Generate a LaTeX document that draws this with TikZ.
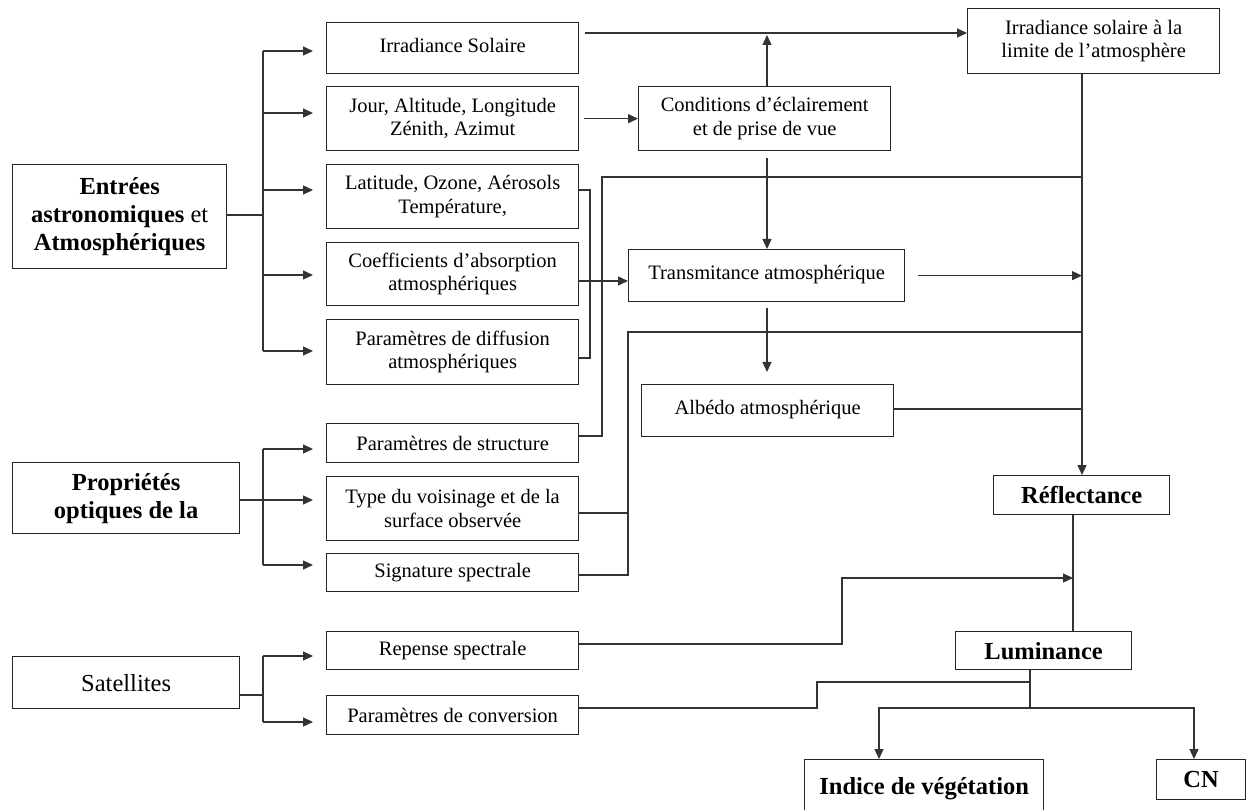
\documentclass[tikz,border=0pt]{standalone}
\usepackage{fontspec}
\setmainfont{Liberation Serif}
\usetikzlibrary{arrows.meta}
\begin{document}
\begin{tikzpicture}[x=1pt,y=-1pt,
  box/.style={draw=black!85, line width=1.3pt, anchor=north west, inner sep=0pt, align=center, font=\fontsize{20.5}{23.5}\selectfont},
  bbox/.style={box, font=\fontsize{24.5}{28}\selectfont\bfseries},
  ln/.style={draw=black!80, line width=1.3pt},
  arr/.style={ln, -{Triangle[length=10pt,width=9pt]}}]
\path[use as bounding box, clip] (0,0) rectangle (1251,810);
\fill[white] (0,0) rectangle (1251,810);

% left group boxes
\node[box, minimum width=214pt, minimum height=104pt, font=\fontsize{24.5}{28}\selectfont] (entrees) at (12,164)
  {\textbf{Entrées}\\\textbf{astronomiques} et\\\textbf{Atmosphériques}};
\node[bbox, minimum width=227pt, minimum height=71pt] (prop) at (12,462) {Propriétés\\optiques de la};
\node[box, minimum width=227pt, minimum height=52pt, font=\fontsize{24.5}{28}\selectfont] (sat) at (12,656) {Satellites};

% column boxes
\node[box, minimum width=252pt, minimum height=51pt] (irrsol) at (326,22) {\raisebox{6pt}{Irradiance Solaire}};
\node[box, minimum width=252pt, minimum height=64pt] (jour) at (326,86) {Jour, Altitude, Longitude\\Zénith, Azimut};
\node[box, minimum width=252pt, minimum height=64pt] (lat) at (326,164) {Latitude, Ozone, Aérosols\\Température,};
\node[box, minimum width=252pt, minimum height=63pt] (coef) at (326,242) {Coefficients d’absorption\\atmosphériques};
\node[box, minimum width=252pt, minimum height=65pt] (diff) at (326,319) {Paramètres de diffusion\\atmosphériques};
\node[box, minimum width=252pt, minimum height=39pt] (struct) at (326,423) {Paramètres de structure};
\node[box, minimum width=252pt, minimum height=64pt] (voisin) at (326,476) {Type du voisinage et de la\\surface observée};
\node[box, minimum width=252pt, minimum height=38pt] (sig) at (326,553) {Signature spectrale};
\node[box, minimum width=252pt, minimum height=38pt] (rep) at (326,631) {Repense spectrale};
\node[box, minimum width=252pt, minimum height=39pt] (conv) at (326,695) {Paramètres de conversion};

% middle / right boxes
\node[box, minimum width=252pt, minimum height=64pt] (cond) at (638,86) {Conditions d’éclairement\\et de prise de vue};
\node[box, minimum width=276pt, minimum height=52pt] (trans) at (628,249) {\raisebox{7pt}{Transmitance atmosphérique}};
\node[box, minimum width=252pt, minimum height=52pt] (albedo) at (641,384) {\raisebox{6pt}{Albédo atmosphérique}};
\node[box, minimum width=252pt, minimum height=65pt] (irrlim) at (967,8) {Irradiance solaire à la\\limite de l’atmosphère};
\node[bbox, minimum width=176pt, minimum height=39pt] (refl) at (993,475) {Réflectance};
\node[bbox, minimum width=176pt, minimum height=38pt] (lum) at (955,631) {Luminance};
\node[bbox, minimum width=239pt, minimum height=70pt] (indice) at (804,759) {\raisebox{17pt}{Indice de végétation}};
\node[bbox, minimum width=89pt, minimum height=40pt] (cn) at (1156,759) {CN};

% junction coordinates
\coordinate (b1) at (263,215);
\coordinate (b2) at (263,500);
\coordinate (b3) at (263,695);
\coordinate (vr) at (1082,475);

% Entrées bracket
\draw[ln] (entrees.east |- b1) -- (b1);
\draw[ln] (263,51) -- (263,351);
\foreach \yy in {51,113,190,275,351} \draw[arr] (263,\yy) -- (313,\yy);

% Propriétés bracket
\draw[ln] (prop.east |- b2) -- (b2);
\draw[ln] (263,449) -- (263,565);
\foreach \yy in {449,500,565} \draw[arr] (263,\yy) -- (313,\yy);

% Satellites bracket
\draw[ln] (sat.east |- b3) -- (b3);
\draw[ln] (263,656) -- (263,722);
\foreach \yy in {656,722} \draw[arr] (263,\yy) -- (313,\yy);

% top line to irradiance limite
\draw[arr] (585,33) -- (irrlim.west |- 0,33);
\draw[arr] (cond.north -| 767,0) -- (767,35);
\draw[arr, shorten <=5pt] (jour.east) -- (cond.west);

% conditions -> transmitance -> albedo
\draw[arr, shorten <=7pt] (cond.south -| 767,0) -- (trans.north -| 767,0);
\draw[arr, shorten <=6pt, shorten >=12pt] (trans.south -| 767,0) -- (albedo.north -| 767,0);

% bracket lat / diff and coef -> trans
\draw[ln] (lat.east |- 0,190) -- (590,190) -- (590,358) -- (diff.east |- 0,358);
\draw[arr] (coef.east |- 0,281) -- (trans.west |- 0,281);

% main vertical line
\draw[arr] (irrlim.south -| vr) -- (refl.north -| vr);
\draw[arr, shorten <=13pt] (trans.east) -- (trans.east -| vr);

% structure line
\draw[ln] (struct.east |- 0,436) -- (602,436) -- (602,177) -- (1082,177);
% voisinage / signature line
\draw[ln] (voisin.east |- 0,513) -- (628,513);
\draw[ln] (sig.east |- 0,575) -- (628,575) -- (628,332) -- (1082,332);
% albedo line
\draw[ln] (albedo.east |- 0,409) -- (1082,409);

% reflectance -> luminance
\draw[ln] (refl.south -| 1073,0) -- (lum.north -| 1073,0);
\draw[arr] (rep.east |- 0,644) -- (842,644) -- (842,578) -- (1073,578);

% luminance outputs
\draw[ln] (lum.south -| 1030,0) -- (1030,708);
\draw[ln] (conv.east |- 0,708) -- (817,708) -- (817,682) -- (1030,682);
\draw[arr] (1030,708) -- (879,708) -- (indice.north -| 879,0);
\draw[arr] (1030,708) -- (1194,708) -- (cn.north -| 1194,0);
\end{tikzpicture}
\end{document}
